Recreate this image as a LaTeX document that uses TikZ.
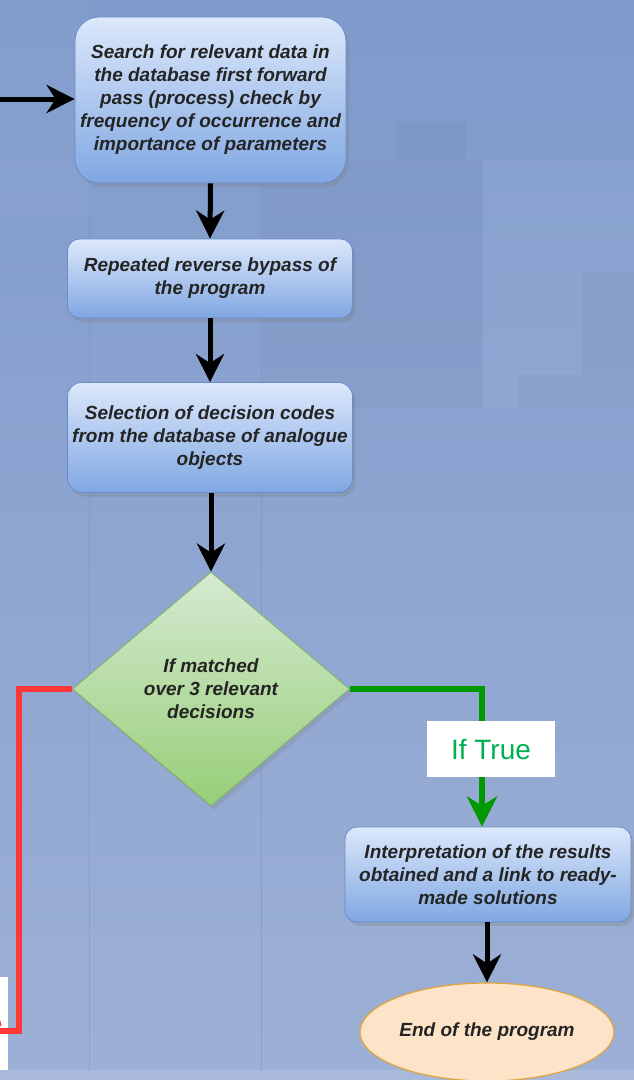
\documentclass[tikz,border=0pt]{standalone}
\usepackage{fontspec}
\setmainfont{Liberation Sans}
\usetikzlibrary{shapes.geometric,shadows,arrows.meta}
\definecolor{bgtop}{HTML}{7E9ACB}
\definecolor{bgbot}{HTML}{9DB0D6}
\definecolor{boxtop}{HTML}{DCE8FB}
\definecolor{boxbot}{HTML}{80A7E2}
\definecolor{boxborder}{HTML}{6A8CC6}
\definecolor{txt}{HTML}{242424}
\definecolor{diatop}{HTML}{D6EAD2}
\definecolor{diabot}{HTML}{97CE77}
\definecolor{diaborder}{HTML}{7DB563}
\definecolor{ellfill}{HTML}{FDE4C8}
\definecolor{ellborder}{HTML}{E2A43A}
\definecolor{yesline}{HTML}{009A00}
\definecolor{yestext}{HTML}{00B050}
\definecolor{noline}{HTML}{FF3737}
\definecolor{gridline}{HTML}{7A90BE}
\begin{document}
\begin{tikzpicture}[x=1pt,y=-1pt,
  boxtext/.style={font=\fontsize{19}{23}\selectfont\bfseries\itshape, text=txt, align=center},
  proc/.style={boxtext, rectangle, draw=boxborder, line width=0.8pt,
    top color=boxtop, bottom color=boxbot, inner sep=0pt,
    drop shadow={opacity=0.3, shadow xshift=3pt, shadow yshift=-4pt}},
  decision/.style={boxtext, diamond, draw=diaborder, line width=0.8pt,
    top color=diatop, bottom color=diabot, inner sep=0pt,
    drop shadow={opacity=0.25, shadow xshift=3pt, shadow yshift=-4pt}},
  terminal/.style={boxtext, ellipse, draw=ellborder, line width=1.2pt, fill=ellfill, inner sep=0pt},
  arr/.style={line width=5pt, draw=black, -{Stealth[length=28pt,width=28pt,inset=9pt]}},
  yesarr/.style={line width=6pt, draw=yesline, line join=miter, -{Stealth[length=30pt,width=30pt,inset=9pt]}},
  noline/.style={line width=6pt, draw=noline, line join=miter},
  lbl/.style={fill=white, inner sep=0pt, font=\fontsize{28}{30}\selectfont}
]
\useasboundingbox (0,0) rectangle (634,1080);
\clip (0,0) rectangle (634,1080);
% background
\shade[top color=bgtop, bottom color=bgbot] (0,0) rectangle (634,1080);
\fill[white, opacity=0.035] (0,0) rectangle (89,215);
\fill[black, opacity=0.02] (262,160) rectangle (483,408);
\fill[black, opacity=0.03] (396,122) rectangle (466,160);
\fill[white, opacity=0.045] (483,160) rectangle (634,408);
\fill[black, opacity=0.03] (582,272) rectangle (634,375);
\fill[black, opacity=0.03] (519,375) rectangle (634,408);
\fill[white, opacity=0.12] (0,1070) rectangle (634,1080);
\draw[gridline, line width=0.6pt, opacity=0.5] (89,215) -- (89,1070) (261,183) -- (261,1070);

% nodes
\node[proc, rounded corners=24pt, minimum width=271pt, minimum height=166pt] (b1) at (210.5,100)
  {Search for relevant data in\\the database first forward\\pass (process) check by\\frequency of occurrence and\\importance of parameters};
\node[proc, rounded corners=12pt, minimum width=285pt, minimum height=79pt] (b2) at (210,278.5)
  {Repeated reverse bypass of\\the program};
\node[proc, rounded corners=14pt, minimum width=285pt, minimum height=110pt] (b3) at (210,437.5)
  {Selection of decision codes\\from the database of analogue\\objects};
\node[decision, minimum width=277pt, minimum height=234pt] (dia) at (211,689)
  {If matched\\over 3 relevant\\decisions};
\node[proc, rounded corners=12pt, minimum width=286pt, minimum height=95pt] (b4) at (488,874.5)
  {Interpretation of the results\\obtained and a link to ready-\\made solutions};
\node[terminal, minimum width=254pt, minimum height=98pt] (end) at (487,1032) {End of the program};

% label boxes
\node[lbl, text=noline, anchor=east, minimum height=93pt, inner xsep=5pt, align=right] (nolbl) at (8,1023.5) {If False};
\coordinate (in) at (0,99);
\coordinate (nocorner) at (19,689);
\coordinate (nobottom) at (19,1031);
\coordinate (noend) at (0,1031);

% connectors
\draw[arr] (in) -- (b1.west |- in);
\draw[arr] (b1.south) -- (b2.north);
\draw[arr] (b2.south) -- (b3.north);
\draw[arr] (dia.north |- b3.south) -- (dia.north);
\draw[yesarr] (dia.east) -| ([xshift=-6pt]b4.north);
\draw[arr] (b4.south -| end.north) -- (end.north);
\draw[noline] (dia.west) -- (nocorner) -- (nobottom) -- (noend);

\node[lbl, text=yestext, minimum width=128pt, minimum height=56pt] (yeslbl) at (491,749) {If True};
\end{tikzpicture}
\end{document}
